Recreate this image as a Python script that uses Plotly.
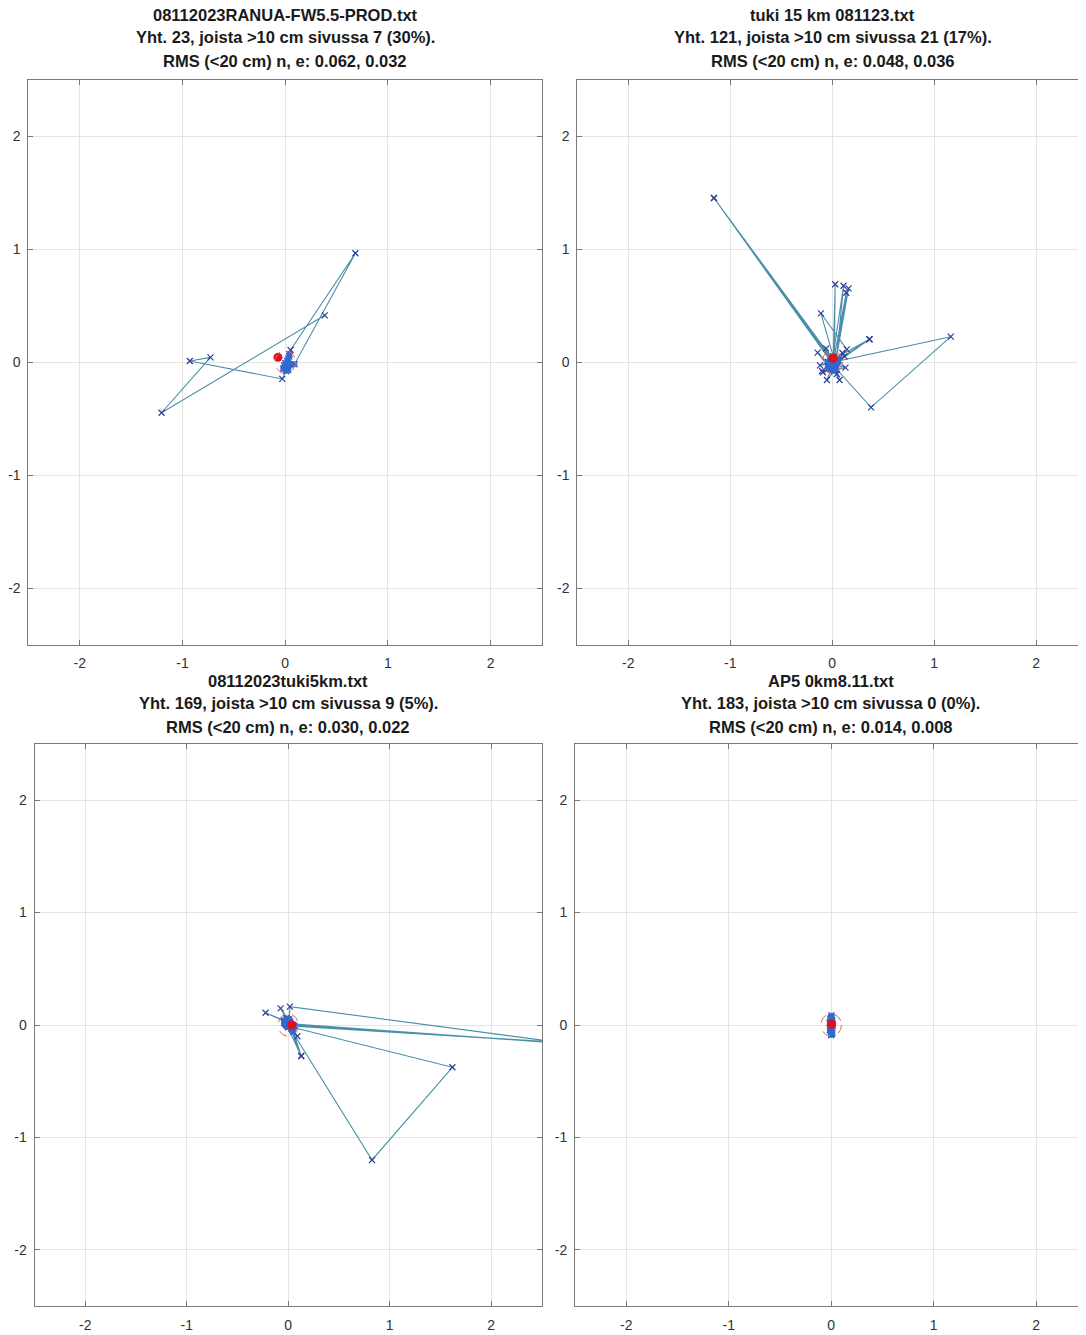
import plotly.graph_objects as go
import numpy as np

# The page body has an 8px margin, so the figure is drawn 8px in from the window corner.
OFF = 8
W, H = 1086 - OFF, 1335 - OFF

# ---------------- data (east = x, north = y), metres ----------------
titles = [
    ["08112023RANUA-FW5.5-PROD.txt", "Yht. 23, joista >10 cm sivussa 7 (30%).", "RMS (<20 cm) n, e: 0.062, 0.032"],
    ["tuki 15 km 081123.txt", "Yht. 121, joista >10 cm sivussa 21 (17%).", "RMS (<20 cm) n, e: 0.048, 0.036"],
    ["08112023tuki5km.txt", "Yht. 169, joista >10 cm sivussa 9 (5%).", "RMS (<20 cm) n, e: 0.030, 0.022"],
    ["AP5 0km8.11.txt", "Yht. 183, joista >10 cm sivussa 0 (0%).", "RMS (<20 cm) n, e: 0.014, 0.008"],
]

e1 = [0.385, -1.204, -0.728, -0.929, -0.029, 0.010, 0.030, 0.000, 0.020, 0.040, 0.052, 0.683,
      0.090, 0.030, -0.010, 0.020, 0.040, 0.000, 0.010, 0.050, 0.030, -0.020, 0.020]
n1 = [0.413, -0.449, 0.041, 0.009, -0.150, -0.060, -0.030, -0.050, 0.010, 0.050, 0.106, 0.962,
      -0.020, -0.070, -0.030, -0.040, 0.070, -0.010, -0.080, -0.020, 0.030, -0.060, -0.020]

e2 = [0.010, -0.020, 0.030, -1.160, 0.000, -0.030, 0.020, 0.029, 0.010, -0.010, 0.111, 0.040,
      0.000, 0.160, 0.030, 0.137, 0.020, -0.040, 0.365, 0.060, 0.143, -0.111, 0.010, -0.020,
      -0.143, -0.030, 0.010, -0.091, -0.040, 0.000, -0.052, 0.020, 0.072, 0.030, 0.046, 0.010,
      0.050, 0.365, 0.040, 0.000, 0.381, 1.163, 0.060, 0.020, 0.100, 0.010, -0.120, -0.020,
      0.130, 0.030, -0.060, 0.000, 0.120, 0.040, -0.100, -0.010, 0.020, -1.160, 0.000, 0.010]
n2 = [-0.030, 0.010, -0.050, 1.451, 0.020, -0.040, 0.000, 0.688, 0.030, -0.060, 0.675, 0.010,
      -0.020, 0.652, -0.020, 0.613, 0.040, 0.000, 0.201, 0.020, 0.112, 0.431, 0.050, -0.030,
      0.083, -0.050, -0.070, -0.091, -0.060, -0.040, -0.159, -0.080, -0.159, -0.060, -0.106, -0.030,
      0.000, 0.201, 0.010, -0.020, -0.401, 0.224, 0.010, -0.040, 0.080, 0.020, -0.030, -0.010,
      -0.050, -0.070, 0.120, 0.030, 0.050, -0.030, -0.080, 0.000, -0.020, 1.451, 0.030, -0.040]

e3 = [-0.020, -0.040, -0.223, -0.030, 0.000, -0.075, -0.020, 0.010, 0.016, 2.800, 0.030, -0.010,
      0.128, 0.050, 0.000, 0.826, 1.618, 0.040, -0.030, 0.050, 2.750, 0.060, 0.020, -0.010,
      0.090, 0.030, -0.020, 0.010, -0.040, 0.000, 0.020, -0.030, 0.040, 0.128, 0.010]
n3 = [0.020, 0.040, 0.109, 0.030, 0.050, 0.148, 0.060, 0.020, 0.163, -0.170, 0.010, -0.010,
      -0.276, -0.060, 0.000, -1.200, -0.376, -0.020, 0.010, 0.000, -0.160, -0.010, 0.030, 0.040,
      -0.100, -0.030, 0.000, 0.050, 0.020, -0.020, 0.010, 0.030, -0.040, -0.276, 0.000]

e4 = [0.000, 0.010, -0.010, 0.005, -0.015, 0.000, 0.012, -0.008, 0.004, 0.015, -0.005, 0.002,
      -0.012, 0.008, 0.000, -0.004, 0.010, -0.010, 0.006, 0.000, -0.006, 0.012, -0.002, 0.004]
n4 = [0.000, 0.040, -0.030, 0.070, 0.020, -0.060, 0.010, 0.050, -0.080, -0.010, 0.030, 0.085,
      -0.045, 0.000, -0.090, 0.060, 0.015, -0.020, 0.035, -0.050, 0.025, -0.070, 0.005, 0.045]

mean_e = [-0.071, 0.007, 0.033, 0.005]
mean_n = [0.041, 0.033, 0.000, 0.009]

side_limit = 0.10   # 10 cm circle
tick_vals = [-2, -1, 0, 1, 2]
tick_text = ["-2", "-1", "0", "1", "2"]

series = [(e1, n1), (e2, n2), (e3, n3), (e4, n4)]

# ---------------- layout geometry (window pixels) ----------------
# (left px, right px, top px, bottom px, x range max)
panels = [
    (25.5, 540.5, 79.5, 644.5, 2.5),
    (575.9, 1086, 79.5, 644.5, 2.489),
    (31.6, 540.4, 743.8, 1306.2, 2.5),
    (573.6, 1086, 743.8, 1306.2, 2.487),
]
title_rows = [(15, 37, 61), (15, 37, 61), (681, 703, 727), (681, 703, 727)]
title_cx = [283, 832, 286, 830]

LINE = "#4a8fa8"
XMARK = "#2c3f99"
INNER = "#2f6ad2"
RED = "#e3101a"
FRAME = "#7a7a7a"
GRID = "#e4e4e4"
FONT = "Liberation Sans, Arial, sans-serif"


def px(x):
    return (x - OFF) / W


def py(y):
    return 1 - (y - OFF) / H


fig = go.Figure()
annotations = []
shapes = []

for i, ((ev, nv), (l, r, t, b, xmax)) in enumerate(zip(series, panels)):
    sfx = "" if i == 0 else str(i + 1)
    xa, ya = "x" + sfx, "y" + sfx
    ev_a, nv_a = np.array(ev), np.array(nv)
    inside = np.hypot(ev_a, nv_a) <= side_limit

    fig.add_trace(go.Scatter(
        x=ev, y=nv, mode="lines+markers", xaxis=xa, yaxis=ya,
        line=dict(color=LINE, width=1.1),
        marker=dict(symbol="x-thin", size=6, line=dict(color=XMARK, width=1.2), color=XMARK),
        showlegend=False, hoverinfo="skip"))
    fig.add_trace(go.Scatter(
        x=ev_a[inside], y=nv_a[inside], mode="markers", xaxis=xa, yaxis=ya,
        marker=dict(symbol="circle", size=6, color=INNER, opacity=0.85),
        showlegend=False, hoverinfo="skip"))
    fig.add_trace(go.Scatter(
        x=[mean_e[i]], y=[mean_n[i]], mode="markers", xaxis=xa, yaxis=ya,
        marker=dict(symbol="circle", size=9, color=RED),
        showlegend=False, hoverinfo="skip"))

    shapes.append(dict(type="circle", xref=xa, yref=ya,
                       x0=-side_limit, x1=side_limit, y0=-side_limit, y1=side_limit,
                       line=dict(color="#e06060", width=1, dash="dash")))

    right_cut = xmax < 2.5
    axis_common = dict(
        tickvals=tick_vals, ticktext=tick_text, ticks="inside", ticklen=5,
        tickcolor=FRAME, tickwidth=1,
        showline=True, linecolor=FRAME, linewidth=1,
        showgrid=True, gridcolor=GRID, gridwidth=1, zeroline=False,
        tickfont=dict(family=FONT, size=14, color="#333333"),
    )
    fig.layout["xaxis" + sfx] = dict(
        axis_common, domain=[px(l), min(px(r), 1.0)], range=[-2.5, xmax], anchor=ya,
        mirror="ticks", ticklabelstandoff=6)
    fig.layout["yaxis" + sfx] = dict(
        axis_common, domain=[py(b), py(t)], range=[-2.5, 2.5], anchor=xa,
        mirror=False if right_cut else "ticks", ticklabelstandoff=4)

    for txt, row in zip(titles[i], title_rows[i]):
        annotations.append(dict(
            text=txt, x=px(title_cx[i]), y=py(row), xref="paper", yref="paper",
            xanchor="center", yanchor="middle", showarrow=False,
            font=dict(family=FONT, size=16.5, color="#1a1a1a", weight="bold")))

fig.update_layout(
    width=W, height=H, margin=dict(l=0, r=0, t=0, b=0),
    paper_bgcolor="white", plot_bgcolor="white",
    annotations=annotations, shapes=shapes, showlegend=False,
)

fig.write_html("out.html")
